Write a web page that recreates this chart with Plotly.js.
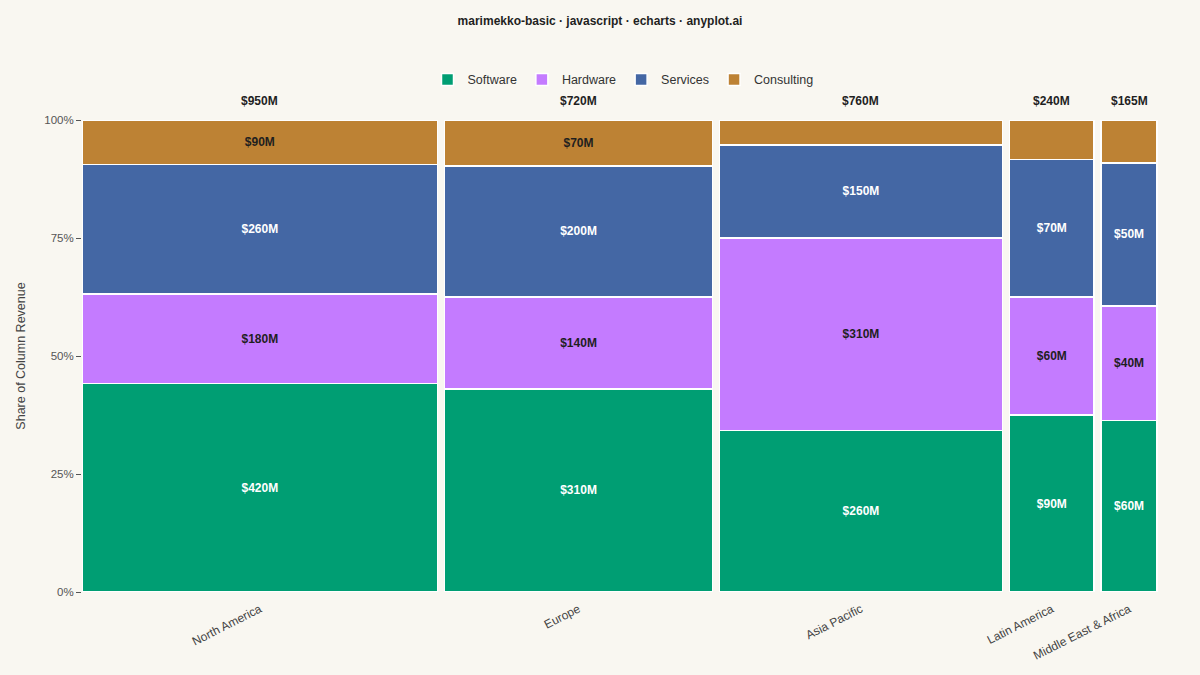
<!DOCTYPE html>
<html>
<head>
<meta charset="utf-8">
<script src="https://cdn.plot.ly/plotly-3.0.1.min.js"></script>
<style>
  html, body { margin: 0; padding: 0; background: #f9f7f1; }
  #chart { width: 1200px; height: 675px; }
</style>
</head>
<body>
<div id="chart"></div>
<script>
// data (revenue, $M)
const regions = ['North America', 'Europe', 'Asia Pacific', 'Latin America', 'Middle East & Africa'];
const software = [420, 310, 260, 90, 60];
const hardware = [180, 140, 310, 60, 40];
const services = [260, 200, 150, 70, 50];
const consulting = [90, 70, 40, 20, 15];
const shareTicks = [0, 25, 50, 75, 100];
const shareTickText = ['0%', '25%', '50%', '75%', '100%'];

const seriesNames = ['Software', 'Hardware', 'Services', 'Consulting'];
const seriesColors = ['#009e73', '#c47bff', '#4467a4', '#bd8234'];
const labelColors = ['#ffffff', '#1f1f1f', '#ffffff', '#1f1f1f'];

// column totals and x positions
const totals = regions.map((r, i) => software[i] + hardware[i] + services[i] + consulting[i]);
const grand = totals.reduce((a, b) => a + b, 0);
const gap = 18; // spacing between columns, in x units
const starts = [];
let acc = 0;
totals.forEach(t => { starts.push(acc); acc += t; });
const centers = starts.map((s, i) => s + (totals[i] - gap) / 2);
const widths = totals.map(t => t - gap);

const fmt = v => '$' + v + 'M';

const traces = [software, hardware, services, consulting].map((vals, k) => ({
  type: 'bar',
  name: seriesNames[k],
  x: centers,
  y: vals.map((v, i) => v / totals[i] * 100),
  width: widths,
  text: vals.map((v, i) => (v / totals[i] >= 0.093 ? fmt(v) : '')),
  textposition: 'inside',
  insidetextanchor: 'middle',
  constraintext: 'none',
  textangle: 0,
  textfont: { family: 'Liberation Sans, Arial, sans-serif', size: 12, color: labelColors[k], weight: 'bold' },
  marker: { color: seriesColors[k], line: { color: '#ffffff', width: 1.5 } },
  hoverinfo: 'skip'
}));

const totalNotes = totals.map((t, i) => ({
  x: centers[i], y: 100, xref: 'x', yref: 'y',
  text: '<b>' + fmt(t) + '</b>',
  showarrow: false, yanchor: 'bottom', yshift: 10,
  font: { family: 'Liberation Sans, Arial, sans-serif', size: 12, color: '#1f1f1f' }
}));

const layout = {
  width: 1200,
  height: 675,
  paper_bgcolor: '#f9f7f1',
  plot_bgcolor: '#f9f7f1',
  font: { family: 'Liberation Sans, Arial, sans-serif', color: '#444' },
  barmode: 'stack',
  bargap: 0,
  margin: { l: 82, r: 36, t: 120, b: 83 },
  title: {
    text: '<b>marimekko-basic · javascript · echarts · anyplot.ai</b>',
    x: 0.5, xanchor: 'center', y: 0.969, yanchor: 'middle',
    font: { size: 12, color: '#1f1f1f' }
  },
  showlegend: true,
  legend: {
    orientation: 'h', x: 0.5, xanchor: 'center', y: 1.085, yanchor: 'middle',
    font: { size: 12.5, color: '#333' }, traceorder: 'normal'
  },
  xaxis: {
    range: [0, grand],
    tickvals: centers,
    ticktext: regions,
    tickangle: -27,
    ticks: '',
    ticklabelstandoff: 7,
    showline: false,
    showgrid: false,
    zeroline: false,
    tickfont: { size: 12, color: '#444' }
  },
  yaxis: {
    range: [0, 100],
    tickvals: shareTicks,
    ticktext: shareTickText,
    ticks: 'outside',
    ticklen: 5,
    tickcolor: '#555',
    showgrid: false,
    zeroline: false,
    showline: false,
    tickfont: { size: 11.5, color: '#555' },
    title: { text: 'Share of Column Revenue', font: { size: 12.5, color: '#444' }, standoff: 15 }
  },
  annotations: totalNotes,
  hovermode: false
};

Plotly.newPlot('chart', traces, layout, { staticPlot: true });
</script>
</body>
</html>
